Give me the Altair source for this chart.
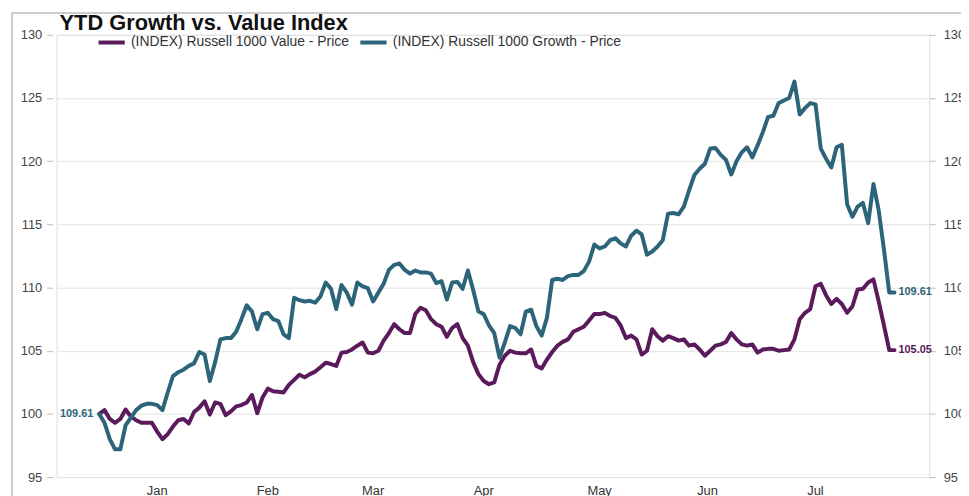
import altair as alt
import pandas as pd

# ---------------- data ----------------
series_names = ["(INDEX) Russell 1000 Value - Price", "(INDEX) Russell 1000 Growth - Price"]
series_colors = ["#5a1a5c", "#2c6479"]

# trading-day number (0 = last session of previous year, base 100)
growth = [
    100.0, 99.3, 98.0, 97.2, 97.2, 99.1, 99.7, 100.3, 100.65, 100.8,
    100.8, 100.7, 100.3, 101.7, 103.0, 103.3, 103.5, 103.8, 104.0, 104.9,
    104.7, 102.6, 104.1, 105.9, 106.0, 106.0, 106.5, 107.5, 108.6, 108.1,
    106.7, 107.9, 108.0, 107.5, 107.35, 106.3, 106.0, 109.2, 109.0, 108.9,
    108.95, 108.8, 109.3, 110.4, 109.9, 108.3, 110.2, 109.6, 108.65, 110.4,
    110.1, 109.95, 108.9, 109.6, 110.3, 111.4, 111.8, 111.9, 111.4, 111.1,
    111.35, 111.2, 111.2, 111.1, 110.35, 110.5, 109.05, 110.4, 110.45, 109.9,
    111.35, 109.8, 108.1, 107.9, 107.0, 106.4, 104.45, 105.65, 106.95, 106.8,
    106.3, 108.1, 108.25, 106.95, 106.2, 107.6, 110.6, 110.7, 110.6, 110.9,
    111.0, 111.0, 111.3, 112.05, 113.4, 113.1, 113.25, 113.75, 113.9, 113.5,
    113.25, 114.1, 114.5, 114.2, 112.6, 112.85, 113.25, 113.75, 115.85, 115.9,
    115.8, 116.4, 117.7, 118.9, 119.4, 119.8, 121.0, 121.05, 120.5, 120.1,
    118.95, 120.0, 120.7, 121.1, 120.3, 121.25, 122.3, 123.5, 123.6, 124.6,
    124.8, 125.0, 126.3, 123.7, 124.2, 124.6, 124.5, 121.0, 120.2, 119.5,
    121.1, 121.3, 116.6, 115.6, 116.4, 116.7, 115.1, 118.2, 116.1, 113.0,
    109.61, 109.61,
]
value = [
    100.0, 100.3, 99.6, 99.3, 99.6, 100.35, 99.8, 99.5, 99.3, 99.3,
    99.3, 98.6, 98.0, 98.4, 99.0, 99.5, 99.6, 99.25, 100.15, 100.5,
    101.0, 99.95, 100.9, 100.8, 99.9, 100.2, 100.6, 100.7, 100.9, 101.5,
    100.05, 101.3, 102.0, 101.8, 101.75, 101.7, 102.3, 102.7, 103.1, 102.9,
    103.15, 103.35, 103.7, 104.05, 103.95, 103.8, 104.85, 104.9, 105.1, 105.4,
    105.65, 104.85, 104.8, 105.0, 105.8, 106.4, 107.1, 106.7, 106.4, 106.4,
    107.9, 108.4, 108.2, 107.5, 107.1, 106.9, 106.1, 106.8, 107.1, 106.0,
    105.4, 104.1, 103.15, 102.6, 102.35, 102.5, 103.9, 104.6, 105.0, 104.85,
    104.8, 104.8, 105.1, 103.8, 103.6, 104.3, 104.9, 105.4, 105.7, 105.9,
    106.5, 106.7, 106.9, 107.4, 107.9, 107.9, 108.0, 107.75, 107.6, 107.0,
    106.0, 106.2, 105.9, 104.7, 105.0, 106.7, 106.15, 105.8, 106.15, 106.0,
    105.8, 105.9, 105.4, 105.5, 105.1, 104.6, 105.0, 105.4, 105.5, 105.7,
    106.4, 105.9, 105.5, 105.4, 105.5, 104.85, 105.1, 105.15, 105.15, 105.0,
    105.05, 105.1, 105.9, 107.5, 108.0, 108.3, 110.1, 110.3, 109.4, 108.7,
    109.1, 108.7, 108.0, 108.5, 109.85, 109.9, 110.4, 110.65, 108.9, 107.0,
    105.05, 105.05,
]
months = ["Jan", "Feb", "Mar", "Apr", "May", "Jun", "Jul"]
month_starts = [0, 22, 42, 62, 84, 106, 125, 147]   # first session of each month
y_ticks = [95, 100, 105, 110, 115, 120, 125, 130]
title_text = "YTD Growth vs. Value Index"

# ---------------- tables ----------------
days = list(range(len(growth)))
df = pd.concat([
    pd.DataFrame({"day": days, "price": value, "series": series_names[0]}),
    pd.DataFrame({"day": days, "price": growth, "series": series_names[1]}),
])
last = pd.DataFrame({
    "day": [days[-1], days[-1]],
    "price": [value[-1], growth[-1]],
    "series": series_names,
    "label": [f"{value[-1]:.2f}", f"{growth[-1]:.2f}"],
})
first = pd.DataFrame({
    "day": [days[0]], "price": [growth[0]], "series": [series_names[1]],
    "label": [f"{growth[-1]:.2f}"],
})
month_df = pd.DataFrame({
    "month": months,
    "mid": [(a + b) / 2 for a, b in zip(month_starts[:-1], month_starts[1:])],
})

FONT = "Liberation Sans"
GRID = "#e3e3e3"
W, H = 880, 446

xscale = alt.Scale(domain=[-8.1, 157.6], nice=False, zero=False)
yscale = alt.Scale(domain=[95, 130], nice=False, zero=False)
cscale = alt.Scale(domain=series_names, range=series_colors)

lines = alt.Chart(df).mark_line(strokeWidth=4, strokeJoin="round", strokeCap="round").encode(
    x=alt.X("day:Q", scale=xscale, axis=alt.Axis(
        values=month_starts, labels=False, title=None, grid=True, gridColor=GRID,
        domain=False, ticks=True, tickSize=6, tickColor=GRID)),
    y=alt.Y("price:Q", scale=yscale, axis=alt.Axis(
        values=y_ticks, orient="left", title=None, grid=True, gridColor=GRID,
        domain=False, tickSize=6, tickColor="#bbbbbb", offset=4, labelPadding=5,
        labelFontSize=13, labelColor="#444", labelFont=FONT)),
    color=alt.Color("series:N", scale=cscale, legend=alt.Legend(
        orient="none", legendX=40, legendY=-8, direction="horizontal", title=None,
        symbolType="stroke", symbolStrokeWidth=4, symbolSize=700,
        labelFontSize=14, labelFont=FONT, labelColor="#333", labelOffset=4,
        columnPadding=3, padding=0, labelLimit=500)),
)

end_labels = alt.Chart(last).mark_text(
    align="left", baseline="middle", dx=4, fontSize=11, fontWeight="bold", font=FONT
).encode(
    x=alt.X("day:Q", scale=xscale, axis=None),
    y=alt.Y("price:Q", scale=yscale, axis=alt.Axis(
        values=y_ticks, orient="right", title=None, grid=False, domain=False,
        tickSize=6, tickColor="#bbbbbb", labelPadding=8, labelFontSize=13,
        labelColor="#444", labelFont=FONT)),
    text="label:N",
    color=alt.Color("series:N", scale=cscale, legend=None),
)

start_label = alt.Chart(first).mark_text(
    align="right", baseline="middle", dx=-6, fontSize=11, fontWeight="bold", font=FONT
).encode(
    x=alt.X("day:Q", scale=xscale, axis=None),
    y=alt.Y("price:Q", scale=yscale, axis=None),
    text="label:N",
    color=alt.Color("series:N", scale=cscale, legend=None),
)

month_labels = alt.Chart(month_df).mark_text(
    baseline="middle", fontSize=13, font=FONT, color="#333"
).encode(
    x=alt.X("mid:Q", scale=xscale, axis=None),
    y=alt.value(H + 14),
    text="month:N",
)

title = alt.Chart(pd.DataFrame({"t": [title_text]})).mark_text(
    align="left", baseline="alphabetic", fontSize=22, fontWeight="bold", font=FONT, color="#111"
).encode(x=alt.value(3), y=alt.value(-5), text="t:N")

frame = alt.Chart(pd.DataFrame({"a": [0]})).mark_rect(
    fillOpacity=0, stroke="#9a9a9a", strokeWidth=1
).encode(x=alt.value(-45), x2=alt.value(1200), y=alt.value(-22), y2=alt.value(1200))

chart = alt.layer(frame, lines, end_labels, start_label, month_labels, title).resolve_axis(
    y="independent"
).properties(
    width=W, height=H,
    autosize=alt.AutoSizeParams(type="none"),
    padding={"left": 49, "top": 25, "right": 32, "bottom": 17},
    background="white",
).configure_view(stroke=GRID).configure(font=FONT)

chart.save("out.html", embed_options={"renderer": "svg", "actions": False})
